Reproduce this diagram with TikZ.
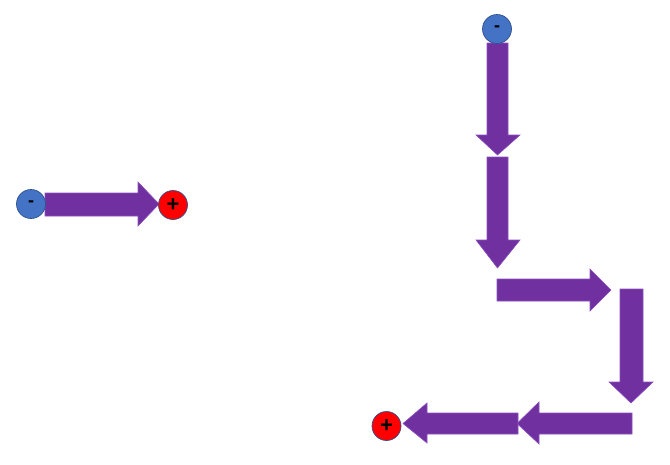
\documentclass[tikz,border=0pt]{standalone}
\usepackage{fontspec}
\setmainfont{Liberation Sans}
\definecolor{arrowpurple}{HTML}{7030A0}
\definecolor{arrowedge}{HTML}{8A4FBF}
\definecolor{minusblue}{HTML}{4472C4}
\definecolor{circedge}{HTML}{2F528F}
\definecolor{plusred}{HTML}{FF0000}
\tikzset{
  blockarrow/.style={fill=arrowpurple, draw=arrowedge, line width=0.6pt, line join=miter},
  minuspole/.style={circle, fill=minusblue, draw=circedge, line width=0.7pt, minimum size=29pt, inner sep=0pt, font=\bfseries\fontsize{18}{18}\selectfont},
  pluspole/.style={circle, fill=plusred, draw=circedge, line width=0.7pt, minimum size=29pt, inner sep=0pt, font=\bfseries\fontsize{22}{22}\selectfont}
}
\begin{document}
\begin{tikzpicture}[x=1pt,y=-1pt]
\useasboundingbox (0,0) rectangle (670,464);
% left pair
\draw[blockarrow] (45,193)--(138,193)--(138,182)--(159,204)--(138,226)--(138,216)--(45,216)--cycle;
\node[minuspole] (m1) at (31,204) {-};
\node[pluspole] (p1) at (173,205) {+};
% right chain
\draw[blockarrow] (487,43)--(508,43)--(508,135)--(520,135)--(497.5,155)--(476,135)--(487,135)--cycle;
\draw[blockarrow] (487,157)--(508,157)--(508,240)--(520,240)--(497.5,268)--(476,240)--(487,240)--cycle;
\draw[blockarrow] (497,279)--(590,279)--(590,269)--(611,290)--(590,311)--(590,301)--(497,301)--cycle;
\draw[blockarrow] (620,289)--(643,289)--(643,382)--(653,382)--(631,403)--(609,382)--(620,382)--cycle;
\draw[blockarrow] (632,413)--(539,413)--(539,402)--(517,423.5)--(539,444)--(539,434)--(632,434)--cycle;
\draw[blockarrow] (518,413)--(427,413)--(427,403)--(403,423.5)--(427,443)--(427,434)--(518,434)--cycle;
\node[minuspole] (m2) at (497,29) {-};
\node[pluspole] (p2) at (386.5,426) {+};
\end{tikzpicture}
\end{document}
